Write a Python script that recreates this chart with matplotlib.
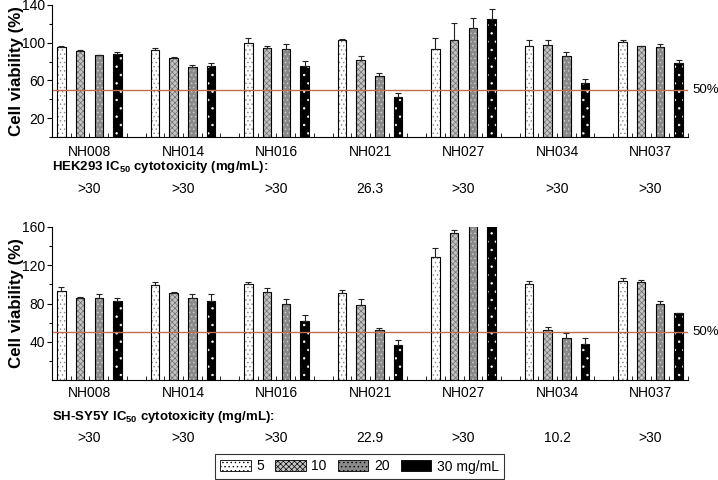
import matplotlib
matplotlib.use("Agg")
import matplotlib.pyplot as plt
import matplotlib.transforms as mtransforms
from matplotlib.patches import Patch
import numpy as np

plt.rcParams['font.family'] = ['Liberation Sans', 'DejaVu Sans']
plt.rcParams['mathtext.fontset'] = 'custom'
plt.rcParams['mathtext.rm'] = 'Liberation Sans'
plt.rcParams['mathtext.bf'] = 'Liberation Sans:bold'
plt.rcParams['hatch.linewidth'] = 0.5

compounds = ["NH008", "NH014", "NH016", "NH021", "NH027", "NH034", "NH037"]
doses = ["5", "10", "20", "30 mg/mL"]

# HEK293 viability (%) per dose, one value per compound
hek_5 = [95, 92, 100, 103, 93, 97, 101]
hek_10 = [91, 84, 94, 82, 103, 98, 96]
hek_20 = [87, 74, 93, 65, 116, 86, 95]
hek_30 = [88, 75, 75, 42, 125, 57, 79]
hek_err_5 = [2, 2.5, 5, 1, 12.5, 6, 1.8]
hek_err_10 = [1, 0.5, 3, 4, 18, 4.8, 0.5]
hek_err_20 = [0.5, 2.4, 6, 2.4, 10.5, 3.8, 3.5]
hek_err_30 = [2.2, 3, 5.6, 4.6, 11, 4.2, 2.8]
hek_ic50 = [">30", ">30", ">30", "26.3", ">30", ">30", ">30"]

# SH-SY5Y viability (%)
sh_5 = [93, 99.5, 100, 90.5, 129, 100.5, 104]
sh_10 = [86, 91, 92, 78.5, 154, 52, 102]
sh_20 = [86, 85.5, 79.5, 52, 170, 43.5, 80]
sh_30 = [83, 83, 62, 37, 175, 37.5, 70]
sh_err_5 = [4, 3, 3, 3.5, 9, 3, 2.8]
sh_err_10 = [1, 1.5, 4, 6, 3, 3.4, 3]
sh_err_20 = [3.8, 4.5, 5.5, 2.8, 5, 6, 2.8]
sh_err_30 = [3, 7, 5.5, 4.5, 5, 6, 0.5]
sh_ic50 = [">30", ">30", ">30", "22.9", ">30", "10.2", ">30"]

# bar styles: face, hatch, hatch colour
styles = [("white", "....", "#888888"),
          ("#c4c4c4", "xxxxxx", "#707070"),
          ("#8a8a8a", "....", "#d0d0d0"),
          ("black", "..", "white")]

fig = plt.figure(figsize=(7.18, 4.8), dpi=100)
ax1 = fig.add_axes([52/718, 1-137/480, 636/718, 132/480])
ax2 = fig.add_axes([52/718, 1-380/480, 636/718, 153/480])

n = len(compounds)
group_x = np.arange(n) * 5


def draw(ax, vals, errs, ymax, majors, minors, ic50, label_y, title_y, val_y, title):
    for j, (v, e) in enumerate(zip(vals, errs)):
        face, hatch, hcol = styles[j]
        x = group_x + j
        ax.bar(x, v, 0.45, color=face, edgecolor=hcol, hatch=hatch, linewidth=0)
        ax.bar(x, v, 0.45, fill=False, edgecolor="black", linewidth=0.8,
               yerr=[np.zeros(n), e], capsize=2.5,
               error_kw=dict(ecolor="#222222", elinewidth=0.8, capthick=0.8))
    ax.axhline(50, color="#c66a50", linewidth=1)
    ax.text(692/718, 50, "50%", transform=mtransforms.blended_transform_factory(fig.transFigure, ax.transData),
            va="center", ha="left", fontsize=9.5)
    ax.set_xlim(-0.5, 33.5)
    ax.set_ylim(0, ymax)
    ax.set_yticks(majors)
    ax.set_yticks(minors, minor=True)
    ax.set_xticks(np.arange(-0.5, 34, 1))
    ax.set_xticklabels([])
    ax.tick_params(axis="x", direction="in", length=3, width=0.6)
    ax.tick_params(axis="y", which="major", length=3.5, width=0.8, labelsize=10, pad=1.5)
    ax.tick_params(axis="y", which="minor", length=2.5, width=0.8)
    ax.spines["top"].set_visible(False)
    ax.spines["right"].set_visible(False)
    ax.set_ylabel("Cell viability (%)", fontsize=12.2, fontweight="bold")
    ax.yaxis.set_label_coords(-0.044, 0.5)
    tr = mtransforms.blended_transform_factory(ax.transData, fig.transFigure)
    for gx, name, ic in zip(group_x, compounds, ic50):
        ax.text(gx + 1.5, 1 - label_y/480, name, transform=tr,
                ha="center", va="center", fontsize=10)
        ax.text(gx + 1.5, 1 - val_y/480, ic, transform=tr,
                ha="center", va="center", fontsize=10)
    fig.text(52/718, 1 - title_y/480, title, fontsize=9.5, fontweight="bold",
             ha="left", va="center")


draw(ax1, [hek_5, hek_10, hek_20, hek_30],
     [hek_err_5, hek_err_10, hek_err_20, hek_err_30],
     140, [20, 60, 100, 140], [0, 40, 80, 120], hek_ic50, 152, 167, 189,
     r"HEK293 IC$_{\mathbf{50}}$ cytotoxicity (mg/mL):")
draw(ax2, [sh_5, sh_10, sh_20, sh_30],
     [sh_err_5, sh_err_10, sh_err_20, sh_err_30],
     160, [40, 80, 120, 160], [20, 60, 100, 140], sh_ic50, 393, 417, 438,
     r"SH-SY5Y IC$_{\mathbf{50}}$ cytotoxicity (mg/mL):")

handles = [Patch(facecolor=s[0], edgecolor="black", hatch=s[1], linewidth=0.6) for s in styles]
leg = fig.legend(handles, doses, loc="center", bbox_to_anchor=(359.5/718, 1-466.5/480),
                 ncol=4, fontsize=10, frameon=True, fancybox=False, edgecolor="black",
                 handlelength=2.2, handleheight=0.9, columnspacing=0.8, handletextpad=0.4,
                 borderpad=0.4)
leg.get_frame().set_linewidth(0.8)

fig.savefig("out.png", dpi=100)
